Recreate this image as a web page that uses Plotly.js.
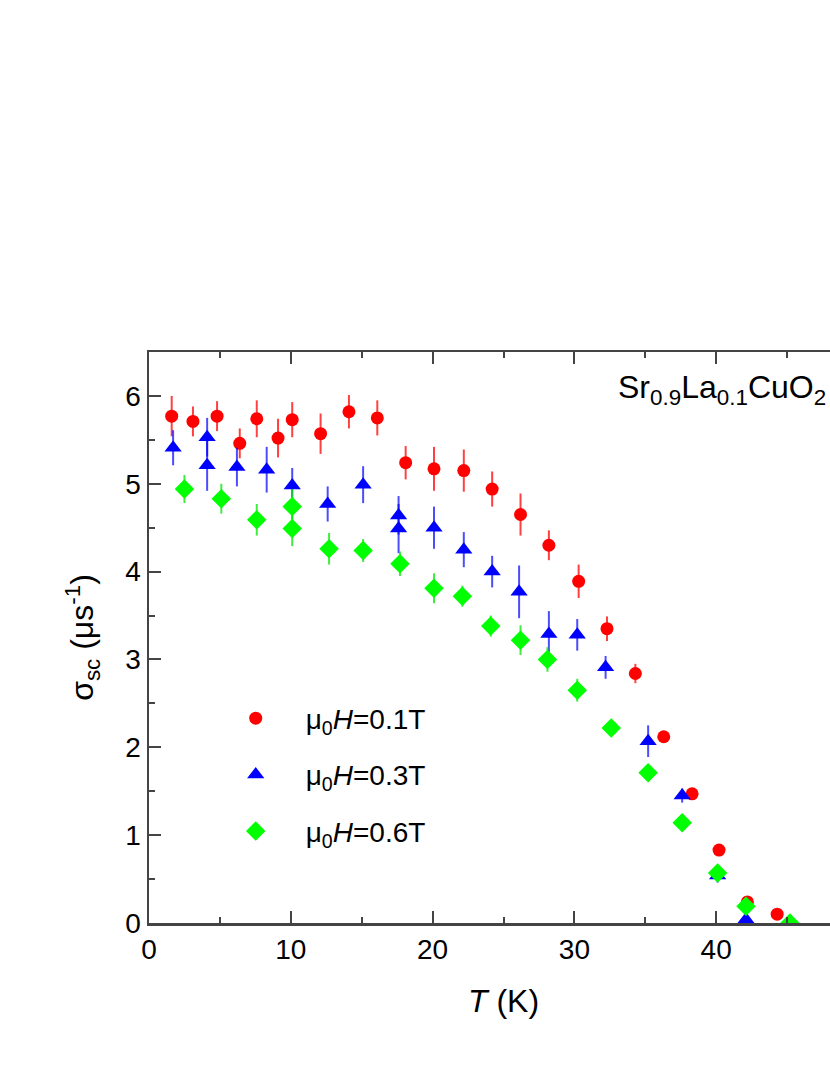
<!DOCTYPE html>
<html>
<head>
<meta charset="utf-8">
<script src="https://cdn.plot.ly/plotly-3.0.1.min.js"></script>
<style>
  html, body { margin: 0; padding: 0; overflow: hidden; background: #fff; }
  #plot { width: 900px; height: 1075px; }
</style>
</head>
<body>
<div id="plot"></div>
<script>
// mu0H = 0.1 T
var tRed = [1.6, 3.1, 4.8, 6.4, 7.6, 9.1, 10.1, 12.1, 14.1, 16.1, 18.1, 20.1, 22.2, 24.2, 26.2, 28.2, 30.3, 32.3, 34.3, 36.3, 38.3, 40.2, 42.2, 44.3];
var sRed = [5.77, 5.71, 5.77, 5.46, 5.74, 5.52, 5.73, 5.57, 5.82, 5.75, 5.24, 5.17, 5.15, 4.94, 4.65, 4.30, 3.89, 3.35, 2.84, 2.12, 1.47, 0.83, 0.24, 0.10];
var eRed = [0.23, 0.17, 0.17, 0.17, 0.21, 0.22, 0.20, 0.23, 0.19, 0.20, 0.19, 0.25, 0.24, 0.20, 0.24, 0.17, 0.19, 0.14, 0.11, 0.05, 0.05, 0.04, 0.04, 0.03];

// mu0H = 0.3 T
var tBlue = [1.7, 4.1, 4.1, 6.2, 8.3, 10.1, 12.6, 15.1, 17.6, 17.6, 20.1, 22.2, 24.2, 26.1, 28.2, 30.2, 32.2, 35.2, 37.6, 40.1, 42.1];
var sBlue = [5.41, 5.53, 5.21, 5.19, 5.16, 4.98, 4.77, 4.99, 4.64, 4.49, 4.50, 4.25, 4.00, 3.77, 3.29, 3.28, 2.91, 2.07, 1.45, 0.54, 0.04];
var eBlue = [0.20, 0.22, 0.29, 0.22, 0.26, 0.20, 0.20, 0.21, 0.22, 0.28, 0.24, 0.20, 0.18, 0.30, 0.26, 0.18, 0.13, 0.18, 0.08, 0.08, 0.03];

// mu0H = 0.6 T
var tGreen = [2.5, 5.1, 7.6, 10.1, 10.1, 12.7, 15.1, 17.7, 20.1, 22.1, 24.1, 26.2, 28.1, 30.2, 32.6, 35.2, 37.6, 40.1, 42.1, 45.2];
var sGreen = [4.94, 4.83, 4.59, 4.74, 4.49, 4.26, 4.24, 4.09, 3.81, 3.72, 3.38, 3.22, 3.00, 2.65, 2.22, 1.71, 1.14, 0.57, 0.19, 0.0];
var eGreen = [0.16, 0.17, 0.18, 0.20, 0.20, 0.18, 0.13, 0.14, 0.17, 0.12, 0.12, 0.17, 0.14, 0.13, 0.04, 0.03, 0.03, 0.03, 0.03, 0.02];

var font = 'Liberation Sans, Arial, sans-serif';

var trace1 = {
  x: tRed, y: sRed, name: '\u03bc<sub>0</sub><i>H</i>=0.1T',
  mode: 'markers', type: 'scatter', legendgroup: 'a',
  marker: {symbol: 'circle', size: 13, color: '#ff0000'},
  error_y: {type: 'data', array: eRed, visible: true, width: 0, thickness: 2, color: 'rgba(255,0,0,0.75)'}
};
var trace2 = {
  x: tBlue, y: sBlue, name: '\u03bc<sub>0</sub><i>H</i>=0.3T',
  mode: 'markers', type: 'scatter', legendgroup: 'b',
  marker: {symbol: 'triangle-up', size: 15, color: '#0000ff'},
  error_y: {type: 'data', array: eBlue, visible: true, width: 0, thickness: 2, color: 'rgba(0,0,255,0.7)'}
};
var trace3 = {
  x: tGreen, y: sGreen, name: '\u03bc<sub>0</sub><i>H</i>=0.6T',
  mode: 'markers', type: 'scatter', legendgroup: 'c',
  marker: {symbol: 'diamond', size: 15, color: '#00ff00'},
  error_y: {type: 'data', array: eGreen, visible: true, width: 0, thickness: 2, color: 'rgba(0,230,0,0.75)'}
};

var data = [trace1, trace2, trace3];

var layout = {
  width: 900, height: 1075,
  margin: {l: 148.5, r: 41.5, t: 351.7, b: 152.3},
  paper_bgcolor: '#fff', plot_bgcolor: '#fff',
  font: {family: font, size: 28, color: '#000'},
  showlegend: true,
  legend: {
    x: 0.08, y: 0.402, xanchor: 'left', yanchor: 'top',
    bgcolor: 'rgba(0,0,0,0)', font: {size: 28},
    itemwidth: 90, traceorder: 'grouped', tracegroupgap: 17
  },
  xaxis: {
    range: [0, 50], dtick: 10, ticks: 'inside', ticklen: 12, tickwidth: 2,
    minor: {dtick: 5, ticks: 'inside', ticklen: 6, tickwidth: 2},
    showline: true, linewidth: 2.5, mirror: 'ticks', showgrid: false, zeroline: false,
    tickfont: {size: 28},
    title: {text: '<i>T</i> (K)', font: {size: 32}, standoff: 26}
  },
  yaxis: {
    range: [0, 6.5], dtick: 1, ticks: 'inside', ticklen: 12, tickwidth: 2,
    minor: {dtick: 0.5, ticks: 'inside', ticklen: 6, tickwidth: 2},
    showline: true, linewidth: 2.5, mirror: 'ticks', showgrid: false, zeroline: false,
    tickfont: {size: 28},
    title: {text: '\u03c3<sub>sc</sub> (\u03bcs<sup>-1</sup>)', font: {size: 32}, standoff: 22}
  },
  annotations: [{
    x: 32.95, y: 6.07, xref: 'x', yref: 'y', xanchor: 'left', yanchor: 'middle',
    text: 'Sr<sub>0.9</sub>La<sub>0.1</sub>CuO<sub>2</sub>',
    showarrow: false, font: {size: 32}
  }]
};

var config = {displayModeBar: false, staticPlot: true};

Plotly.newPlot('plot', data, layout, config);
</script>
</body>
</html>
